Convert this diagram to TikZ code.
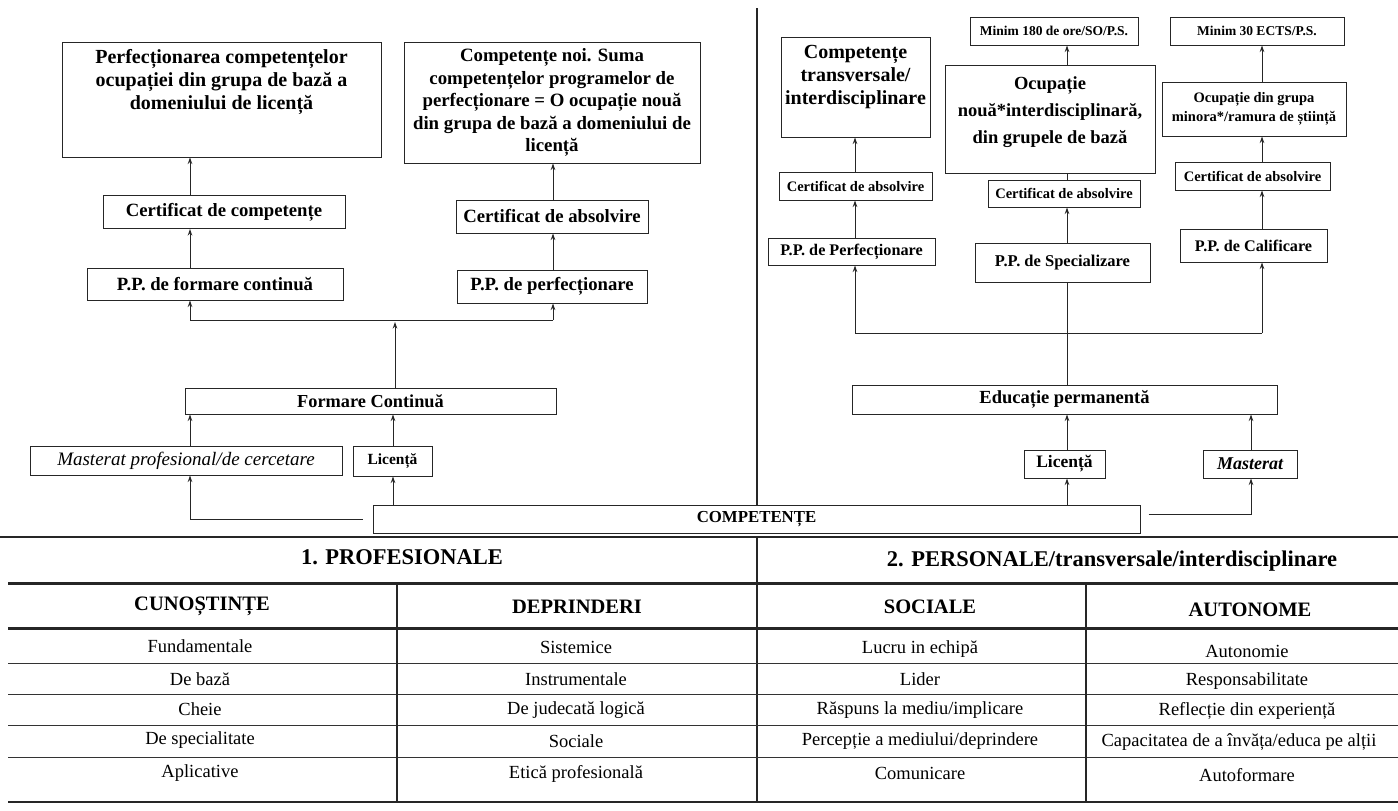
\documentclass[tikz,border=0pt]{standalone}
\usepackage{fontspec}
\setmainfont{Liberation Serif}
\usetikzlibrary{arrows.meta}
\begin{document}
\begin{tikzpicture}[x=1pt,y=-1pt,
  bx/.style={draw=black!85, line width=1pt, inner sep=1pt, align=center, fill=white},
  wh/.style 2 args={minimum width=#1pt, minimum height=#2pt},
  ar/.style={-{Stealth[length=6.5pt,width=4.5pt]}, line width=1pt, draw=black!85},
  ln/.style={line width=1pt, draw=black!85},
  thin/.style={line width=0.9pt, draw=black!80},
  thick/.style={line width=3pt, draw=black!85},
  big/.style={font=\fontsize{20}{23}\selectfont\bfseries},
  mid/.style={font=\fontsize{18.7}{22}\selectfont\bfseries},
  sml/.style={font=\fontsize{13.5}{17}\selectfont\bfseries},
  tiny/.style={font=\fontsize{14.5}{17}\selectfont\bfseries},
  pp/.style={font=\fontsize{16.2}{19}\selectfont\bfseries},
  hd/.style={font=\fontsize{22.5}{26}\selectfont\bfseries},
  sh/.style={font=\fontsize{20.5}{24}\selectfont\bfseries},
  cell/.style={font=\fontsize{18.5}{22}\selectfont},
]
\useasboundingbox (0,0) rectangle (1398,811);
\fill[white] (0,0) rectangle (1398,811);

% ---------- left part ----------
\node[bx, big, wh={319}{115}] (A) at (221.5,99.5)
  {\parbox[c][107pt][t]{311pt}{\centering\vspace*{3pt}Perfecționarea competențelor\\ ocupației din grupa de bază a\\ domeniului de licență}};
\node[bx, mid, wh={242}{33}] (B) at (224,212) {Certificat de competențe};
\node[bx, mid, wh={256}{32}] (C) at (215,284) {P.P. de formare continuă};
\node[bx, font=\fontsize{18.8}{22.5}\selectfont\bfseries, wh={296}{121}] (D) at (552,102.5)
  {Competențe noi. Suma\\ competențelor programelor de\\ perfecționare = O ocupație nouă\\ din grupa de bază a domeniului de\\ licență};
\node[bx, mid, wh={192}{33}] (E) at (552,216.5) {Certificat de absolvire};
\node[bx, mid, wh={190}{33}] (F) at (552,286.5) {P.P. de perfecționare};
\node[bx, font=\fontsize{18.3}{22}\selectfont\bfseries, wh={371}{26}] (FC) at (370.5,401) {Formare Continuă};
\node[bx, font=\fontsize{19}{22}\selectfont\itshape, wh={312}{29}] (MP) at (186,460.5) {Masterat profesional/de cercetare};
\node[bx, font=\fontsize{15.5}{18}\selectfont\bfseries, wh={79}{30}] (L1) at (392.5,461) {Licență};
\node[bx, font=\fontsize{16.8}{20}\selectfont\bfseries, wh={767}{28}] (COMP) at (756.5,519) {COMPETENȚE};

\coordinate (xa) at (190,0);
\coordinate (xb) at (553,0);
\coordinate (xl) at (393,0);
\coordinate (jl1) at (190,320);
\coordinate (jl2) at (553,320);
\coordinate (jlm) at (395,322);

\draw[ar] (B.north -| xa) -- (A.south -| xa);
\draw[ar] (C.north -| xa) -- (B.south -| xa);
\draw[ar] (E.north -| xb) -- (D.south -| xb);
\draw[ar] (F.north -| xb) -- (E.south -| xb);
\draw[ln] (jl1) -- (jl2);
\draw[ar] (jl1) -- (C.south -| jl1);
\draw[ar] (jl2) -- (F.south -| jl2);
\draw[ar] (FC.north -| jlm) -- (jlm);
\draw[ar] (MP.north -| xa) -- (FC.south -| xa);
\draw[ar] (L1.north -| xl) -- (FC.south -| xl);
\draw[ar] (COMP.north -| xl) -- (L1.south -| xl);
\draw[ar] ([xshift=-10pt]COMP.west) -| (MP.south -| xa);

% ---------- right part ----------
\node[bx, font=\fontsize{20}{23}\selectfont\bfseries, wh={149}{100}] (G) at (855.5,87)
  {\parbox[c][92pt][t]{145pt}{\centering\vspace*{4pt}Competențe\\ transversale/\\ interdisciplinare}};
\node[bx, sml, wh={168}{28}] (M180) at (1054,31) {Minim 180 de ore/SO/P.S.};
\node[bx, sml, wh={174}{28}] (M30) at (1257,31) {Minim 30 ECTS/P.S.};
\node[bx, font=\fontsize{18.5}{27}\selectfont\bfseries, wh={210}{108}] (ON) at (1050,119)
  {\parbox[c][100pt][t]{202pt}{\centering\vspace*{8pt}Ocupație\\ nouă*interdisciplinară,\\ din grupele de bază}};
\node[bx, font=\fontsize{14.5}{19}\selectfont\bfseries, wh={184}{54}] (OG) at (1254,109) {Ocupație din grupa\\ minora*/ramura de știință};
\node[bx, tiny, wh={153}{28}] (CG) at (855.5,186) {Certificat de absolvire};
\node[bx, tiny, wh={152}{27}] (CM) at (1064,193.5) {Certificat de absolvire};
\node[bx, tiny, wh={155}{28}] (CR) at (1252.5,176) {Certificat de absolvire};
\node[bx, pp, wh={167}{27}] (PPP) at (851.5,251.5) {P.P. de Perfecționare};
\node[bx, font=\fontsize{16.5}{19}\selectfont\bfseries, wh={175}{39}] (PPS) at (1062.5,262.5) {P.P. de Specializare};
\node[bx, pp, wh={147}{33}] (PPC) at (1253.5,245.5) {P.P. de Calificare};
\node[bx, font=\fontsize{18.5}{22}\selectfont\bfseries, wh={425}{29}] (EP) at (1064.5,399.5) {Educație permanentă};
\node[bx, font=\fontsize{17.5}{20}\selectfont\bfseries, wh={81}{28}] (L2) at (1064.5,464) {Licență};
\node[bx, font=\fontsize{18}{21}\selectfont\bfseries\itshape, wh={94}{28}] (MR) at (1250,464) {Masterat};

\coordinate (xg) at (855,0);
\coordinate (xm) at (1067,0);
\coordinate (xr) at (1262,0);
\coordinate (xmr) at (1251,0);
\coordinate (jr1) at (855,333);
\coordinate (jr2) at (1262,333);

\draw[ar] (CG.north -| xg) -- (G.south -| xg);
\draw[ar] (PPP.north -| xg) -- (CG.south -| xg);
\draw[ar] (ON.north -| xm) -- (M180.south -| xm);
\draw[ln] (CM.north -| xm) -- (ON.south -| xm);
\draw[ar] (PPS.north -| xm) -- (CM.south -| xm);
\draw[ar] (OG.north -| xr) -- (M30.south -| xr);
\draw[ar] (CR.north -| xr) -- (OG.south -| xr);
\draw[ar] (PPC.north -| xr) -- (CR.south -| xr);
\draw[ln] (jr1) -- (jr2);
\draw[ar] (jr1) -- (PPP.south -| jr1);
\draw[ar] (jr2) -- (PPC.south -| jr2);
\draw[ln] (EP.north -| xm) -- (PPS.south -| xm);
\draw[ar] (L2.north -| xm) -- (EP.south -| xm);
\draw[ar] (MR.north -| xmr) -- (EP.south -| xmr);
\draw[ar] (COMP.north -| xm) -- (L2.south -| xm);
\draw[ar] ([xshift=8pt,yshift=5pt]COMP.east) -| (MR.south -| xmr);

% ---------- dividers and table ----------
\coordinate (dv) at (757,8);
\draw[line width=1.3pt, black!85] (dv) -- (COMP.north -| dv);
\draw[line width=1.5pt, black!85] (0,537) -- (1398,537);
\draw[line width=1.3pt, black!85] (757,537) -- (757,802);
\draw[thick] (8,583) -- (1398,583);
\draw[thick] (8,628) -- (1398,628);
\foreach \yy in {663,694,725,757} \draw[thin] (8,\yy) -- (1398,\yy);
\draw[line width=1.5pt, black!85] (8,802) -- (1398,802);
\draw[line width=1.3pt, black!85] (397,583) -- (397,802);
\draw[line width=1.3pt, black!85] (1086,583) -- (1086,802);

\node[hd] (h1) at (402,557) {1. PROFESIONALE};
\node[hd] (h2) at (1112,561) {2. PERSONALE/transversale/interdisciplinare};
\node[sh] (s1) at (202,606) {CUNOȘTINȚE};
\node[sh] (s2) at (577,607) {DEPRINDERI};
\node[sh] (s3) at (930,607) {SOCIALE};
\node[sh] (s4) at (1250,610) {AUTONOME};

\node[cell] (a1) at (200,646) {Fundamentale};
\node[cell] (a2) at (200,679) {De bază};
\node[cell] (a3) at (200,709) {Cheie};
\node[cell] (a4) at (200,740) {De specialitate};
\node[cell] (a5) at (200,773) {Aplicative};
\node[cell] (b1) at (576,647) {Sistemice};
\node[cell] (b2) at (576,679) {Instrumentale};
\node[cell] (b3) at (576,710) {De judecată logică};
\node[cell] (b4) at (576,741) {Sociale};
\node[cell] (b5) at (576,774) {Etică profesională};
\node[cell] (c1) at (920,649) {Lucru in echipă};
\node[cell] (c2) at (920,679) {Lider};
\node[cell] (c3) at (920,710) {Răspuns la mediu/implicare};
\node[cell] (c4) at (920,741) {Percepție a mediului/deprindere};
\node[cell] (c5) at (920,773) {Comunicare};
\node[cell] (d1) at (1247,651) {Autonomie};
\node[cell] (d2) at (1247,681) {Responsabilitate};
\node[cell] (d3) at (1247,711) {Reflecție din experiență};
\node[cell] (d4) at (1239,742) {Capacitatea de a învăța/educa pe alții};
\node[cell] (d5) at (1247,775) {Autoformare};
\end{tikzpicture}
\end{document}
